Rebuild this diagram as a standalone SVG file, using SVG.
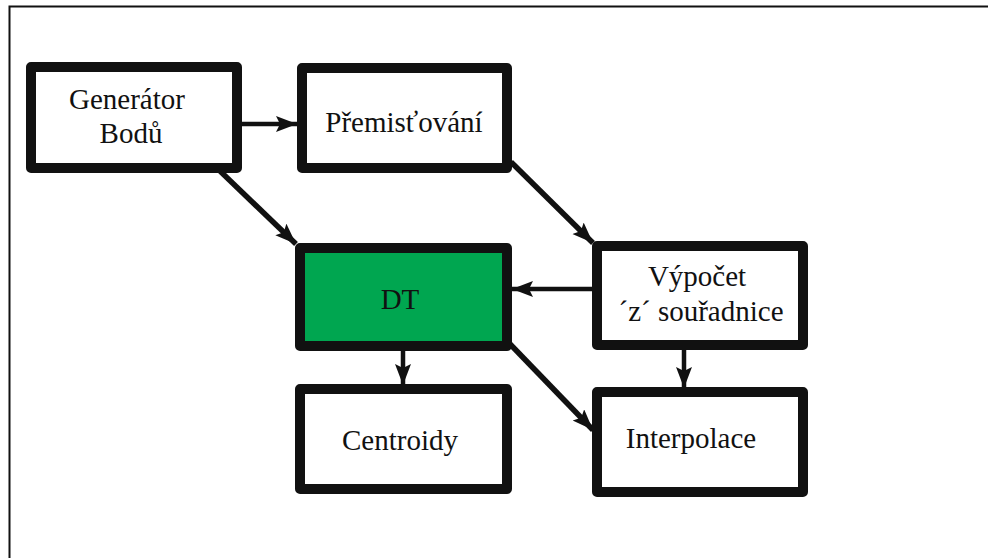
<svg xmlns="http://www.w3.org/2000/svg" width="988" height="558" viewBox="0 0 988 558">
<style>
.box{fill:#fff;stroke:#111;stroke-width:10;stroke-linejoin:round}
.dt{fill:#00a650}
.lbl{font-family:'Liberation Serif','Times New Roman',Tinos,'DejaVu Serif',serif;font-size:29px;fill:#111;text-anchor:middle}
.c{stroke:#111;fill:none;stroke-width:4.5}
.d{stroke-width:5.5}
</style>
<defs>
<marker id="ah" markerUnits="userSpaceOnUse" markerWidth="24" markerHeight="18" refX="21" refY="8" orient="auto">
<path d="M0,0 L21,8 L0,16 L4,8 z" fill="#111"/>
</marker>
</defs>
<rect width="988" height="558" fill="#fff"/>
<path d="M9.5,558 V6.5 H988" fill="none" stroke="#111" stroke-width="2"/>
<g id="connectors">
<line class="c" x1="242" y1="124" x2="297" y2="124" marker-end="url(#ah)"/>
<line class="c d" x1="220" y1="171" x2="296" y2="244" marker-end="url(#ah)"/>
<line class="c d" x1="511" y1="162" x2="593" y2="243" marker-end="url(#ah)"/>
<line class="c" x1="592" y1="289" x2="512" y2="289" marker-end="url(#ah)"/>
<line class="c" x1="403" y1="351" x2="403" y2="385" marker-end="url(#ah)"/>
<line class="c d" x1="509" y1="343" x2="593" y2="430" marker-end="url(#ah)"/>
<line class="c" x1="684" y1="350" x2="684" y2="388" marker-end="url(#ah)"/>
</g>
<g id="generator">
<rect class="box" x="31" y="67" width="206" height="101"/>
<text class="lbl" font-family="Liberation Serif, serif" x="127" y="109">Generátor</text>
<text class="lbl" font-family="Liberation Serif, serif" x="131" y="143">Bodů</text>
</g>
<g id="premistovani">
<rect class="box" x="302" y="68" width="205" height="100"/>
<text class="lbl" font-family="Liberation Serif, serif" x="404" y="132">Přemisťování</text>
</g>
<g id="dt">
<rect class="box dt" x="300" y="248" width="207" height="98"/>
<text class="lbl" font-family="Liberation Serif, serif" x="400" y="309">DT</text>
</g>
<g id="vypocet">
<rect class="box" x="597" y="246" width="206" height="99"/>
<text class="lbl" font-family="Liberation Serif, serif" x="697" y="286">Výpočet</text>
<text class="lbl" font-family="Liberation Serif, serif" x="701" y="321">´z´ souřadnice</text>
</g>
<g id="centroidy">
<rect class="box" x="300" y="389" width="207" height="100"/>
<text class="lbl" font-family="Liberation Serif, serif" x="400" y="450">Centroidy</text>
</g>
<g id="interpolace">
<rect class="box" x="597" y="392" width="206" height="100"/>
<text class="lbl" font-family="Liberation Serif, serif" x="691" y="448">Interpolace</text>
</g>
</svg>
